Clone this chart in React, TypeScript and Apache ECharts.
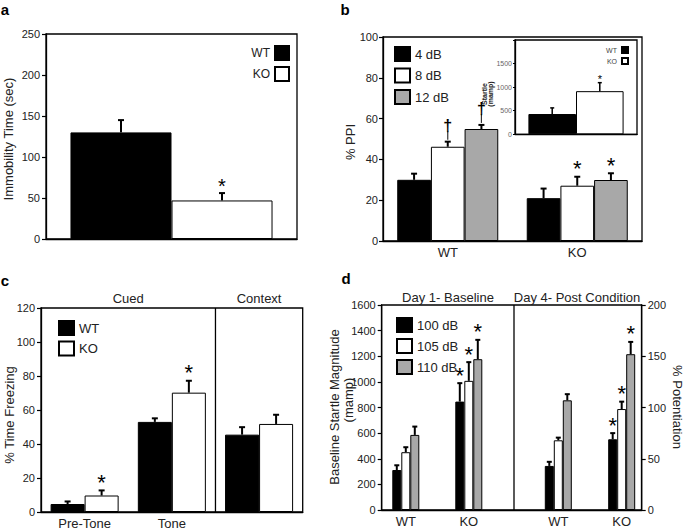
import React, { useEffect, useRef } from "react";
import * as echarts from "echarts";

const FONT = '"Liberation Sans", Arial, Helvetica, sans-serif';

// Panel a
const aCategories = [""];
const aWT = [130];
const aWTErr = [15];
const aKO = [47];
const aKOErr = [9];
const aKOMarks = ["*"];
const aTicks = { min: 0, max: 250, interval: 50 };

// Panel b
const bGroups = ["WT", "KO"];
const b4 = [30, 21];
const b4Err = [3, 4.7];
const b8 = [46.2, 27.1];
const b8Err = [2.5, 4.4];
const b8Marks = ["†", "*"];
const b12 = [54.9, 29.9];
const b12Err = [2, 3.3];
const b12Marks = ["†", "*"];
const bTicks = { min: 0, max: 100, interval: 20 };
// inset
const insetCategories = [""];
const insetWT = [430];
const insetWTErr = [130];
const insetKO = [915];
const insetKOErr = [180];
const insetKOMarks = ["*"];
const insetTicks = { min: 0, max: 2000, interval: 500 };

// Panel c
const cCategories = ["Pre-Tone", "Tone", "Context"];
const cWT = [4.7, 53, 45.5];
const cWTErr = [1.5, 2.1, 4.4];
const cKO = [9.7, 70.2, 51.8];
const cKOErr = [3, 7, 5.4];
const cKOMarks = ["*", "*", ""];
const cSections = ["Cued", "Context"];
const cTicks = { min: 0, max: 120, interval: 20 };

// Panel d
const dGroups = ["WT", "KO"];
const dSections = ["Day 1- Baseline", "Day 4- Post Condition"];
const d1_100 = [312, 846];
const d1_100Err = [37, 144];
const d1_105 = [451, 1008];
const d1_105Err = [39, 146];
const d1_110 = [586, 1177];
const d1_110Err = [65, 151];
const d4_100 = [43, 69];
const d4_100Err = [4, 6];
const d4_105 = [68, 98.5];
const d4_105Err = [2.6, 7.2];
const d4_110 = [107, 152];
const d4_110Err = [6, 12];
const dMarks = ["", "*"];
const dLeftTicks = { min: 0, max: 1600, interval: 200 };
const dRightTicks = { min: 0, max: 200, interval: 50 };

const BLACK = "#000";
const WHITE = "#fff";
const GRAY = "#a8a8a8";

type EOpts = { gap?: number; barW?: number; cap: number; lw: number; markSize: number };

function errorBars(
  key: string,
  xi: number,
  yi: number,
  means: number[],
  errs: number[],
  marks: string[] | null,
  idx: number,
  n: number,
  o: EOpts
) {
  return {
    type: "custom",
    name: "err-" + key,
    xAxisIndex: xi,
    yAxisIndex: yi,
    z: 10,
    silent: true,
    data: means.map((m, i) => [i, m, m + errs[i]]),
    renderItem: (params: any, api: any) => {
      const i = params.dataIndex;
      const base = api.coord([api.value(0), api.value(1)]);
      const top = api.coord([api.value(0), api.value(2)]);
      const band = api.size([1, 0])[0];
      const bw = o.barW != null ? o.barW : (band * (1 - (o.gap || 0))) / n;
      const x = base[0] + (idx - (n - 1) / 2) * bw;
      const ty = top[1];
      const ls = { stroke: BLACK, lineWidth: o.lw };
      const children: any[] = [
        { type: "line", shape: { x1: x, y1: base[1], x2: x, y2: ty }, style: ls },
        { type: "line", shape: { x1: x - o.cap, y1: ty, x2: x + o.cap, y2: ty }, style: ls },
      ];
      const mk = marks ? marks[i] : "";
      if (mk === "*") {
        children.push({
          type: "text",
          style: {
            text: "*",
            x,
            y: ty - o.markSize * 0.36,
            fontSize: o.markSize,
            fontFamily: FONT,
            fill: BLACK,
            align: "center",
            verticalAlign: "middle",
            textAlign: "center",
            textVerticalAlign: "middle",
          },
        });
      } else if (mk === "†") {
        children.push(
          { type: "line", shape: { x1: x, y1: ty - 2, x2: x, y2: ty - 11 }, style: { stroke: "#333", lineWidth: 1.2 } },
          {
            type: "text",
            style: {
              text: "†",
              x,
              y: ty - 8,
              fontSize: 16,
              fontWeight: "bold",
              fontFamily: FONT,
              fill: BLACK,
              align: "center",
              verticalAlign: "bottom",
              textAlign: "center",
              textVerticalAlign: "bottom",
            },
          }
        );
      }
      return { type: "group", children };
    },
  };
}

function bar(name: string, xi: number, yi: number, data: number[], color: string, extra: any = {}) {
  return {
    type: "bar",
    name,
    xAxisIndex: xi,
    yAxisIndex: yi,
    data,
    barGap: "0%",
    itemStyle: { color, borderColor: BLACK, borderWidth: 1 },
    ...extra,
  };
}

const axisLine = { show: true, lineStyle: { color: BLACK, width: 1.3 } };
const tick = { show: true, length: 4, lineStyle: { color: BLACK, width: 1.2 } };
const label = { fontSize: 11, color: "#222", fontFamily: FONT, margin: 6, formatter: (v: number) => String(v) };

function valueAxis(gridIndex: number, t: any, extra: any = {}) {
  return {
    type: "value",
    gridIndex,
    min: t.min,
    max: t.max,
    interval: t.interval,
    axisLine,
    axisTick: tick,
    axisLabel: label,
    splitLine: { show: false },
    ...extra,
  };
}

function catAxis(gridIndex: number, data: string[], extra: any = {}) {
  return {
    type: "category",
    gridIndex,
    data,
    axisLine,
    axisTick: { show: false },
    axisLabel: { fontSize: 13, color: "#222", fontFamily: FONT, margin: 5 },
    splitLine: { show: false },
    ...extra,
  };
}

// layout (pixels)
const GA = { left: 46, top: 34, width: 251, height: 205 };
const GB = { left: 383, top: 37, width: 259, height: 204 };
const GI = { left: 515, top: 40, width: 122, height: 94.3 };
const GC = { left: 41, top: 308, width: 261.7, height: 204.3 };
const GD = { left: 381.7, top: 305, width: 260, height: 205 };
const GD1 = { left: 374.3, top: 305, width: 126, height: 205 };
const GD2 = { left: 526.6, top: 305, width: 126.8, height: 205 };

const frame = { show: true, borderColor: BLACK, borderWidth: 1.3, backgroundColor: "transparent" };

function txt(text: string, x: number, y: number, size: number, extra: any = {}, rotation = 0) {
  return {
    type: "text",
    x,
    y,
    rotation,
    silent: true,
    style: {
      text,
      fontSize: size,
      fontFamily: FONT,
      fill: "#222",
      align: "center",
      verticalAlign: "middle",
      textAlign: "center",
      textVerticalAlign: "middle",
      ...extra,
    },
  };
}

export default function App() {
  const ref = useRef<HTMLDivElement>(null);
  useEffect(() => {
    if (!ref.current) return;
    const chart = echarts.init(ref.current, undefined, { renderer: "svg" });
    const eA = { gap: 0.195, cap: 3, lw: 2, markSize: 20 };
    const eB = { gap: 0.22, cap: 3, lw: 2, markSize: 22 };
    const eI = { gap: 0.22, cap: 2, lw: 1.5, markSize: 11 };
    const eC = { gap: 0.22, cap: 3, lw: 2, markSize: 22 };
    const eD = { barW: 9, cap: 2.5, lw: 2, markSize: 22 };
    const option: any = {
      animation: false,
      textStyle: { fontFamily: FONT },
      grid: [
        { ...GA, ...frame },
        { ...GB, ...frame },
        { ...GI, show: true, borderColor: BLACK, borderWidth: 1.3, backgroundColor: WHITE },
        { ...GC, ...frame },
        { ...GD, show: true, borderColor: BLACK, borderWidth: 1.3, backgroundColor: "transparent" },
        { ...GD1 },
        { ...GD2 },
      ],
      xAxis: [
        catAxis(0, aCategories, { axisLabel: { show: false } }),
        catAxis(1, bGroups),
        catAxis(2, insetCategories, { axisLabel: { show: false } }),
        catAxis(3, cCategories, {
          axisLabel: {
            fontSize: 13,
            color: "#222",
            fontFamily: FONT,
            margin: 5,
            formatter: (v: string) => (v === cCategories[2] ? "" : v),
          },
        }),
        catAxis(4, [""], { axisLabel: { show: false } }),
        catAxis(5, dGroups, { axisLine: { show: false } }),
        catAxis(6, dGroups, { axisLine: { show: false } }),
      ],
      yAxis: [
        valueAxis(0, aTicks),
        valueAxis(1, bTicks, { axisLabel: { ...label, margin: 5 } }),
        valueAxis(2, insetTicks, {
          axisTick: { show: true, length: 2, lineStyle: { color: BLACK } },
          axisLabel: {
            fontSize: 7,
            color: "#666",
            fontFamily: FONT,
            margin: 3,
            formatter: (v: number) => (v === insetTicks.max ? "" : String(v)),
          },
        }),
        valueAxis(3, cTicks),
        valueAxis(4, dLeftTicks),
        valueAxis(4, dRightTicks, { position: "right" }),
        valueAxis(5, dLeftTicks, { show: false }),
        valueAxis(6, dRightTicks, { show: false }),
      ],
      legend: [
        {
          data: ["WT", "KO"],
          orient: "vertical",
          right: 390,
          top: 40,
          align: "right",
          icon: "rect",
          itemWidth: 14,
          itemHeight: 14,
          itemGap: 5,
          selectedMode: false,
          textStyle: { fontSize: 12, color: "#222", fontFamily: FONT },
        },
        {
          data: ["4 dB", "8 dB", "12 dB"],
          orient: "vertical",
          left: 389,
          top: 41,
          icon: "rect",
          itemWidth: 15,
          itemHeight: 14,
          itemGap: 5.5,
          selectedMode: false,
          textStyle: { fontSize: 13, color: "#222", fontFamily: FONT },
        },
        {
          data: ["WT", "KO"],
          orient: "vertical",
          right: 51,
          top: 41,
          align: "right",
          icon: "rect",
          itemWidth: 6,
          itemHeight: 6,
          itemGap: 3,
          selectedMode: false,
          textStyle: { fontSize: 7, color: "#444", fontFamily: FONT },
        },
        {
          data: ["WT", "KO"],
          orient: "vertical",
          left: 53,
          top: 315,
          icon: "rect",
          itemWidth: 15,
          itemHeight: 14,
          itemGap: 4.5,
          selectedMode: false,
          textStyle: { fontSize: 13, color: "#222", fontFamily: FONT },
        },
        {
          data: ["100 dB", "105 dB", "110 dB"],
          orient: "vertical",
          left: 391,
          top: 312,
          icon: "rect",
          itemWidth: 15,
          itemHeight: 14,
          itemGap: 5,
          selectedMode: false,
          textStyle: { fontSize: 13, color: "#222", fontFamily: FONT },
        },
      ],
      series: [
        // a
        bar("WT", 0, 0, aWT, BLACK, { barCategoryGap: "19.5%" }),
        bar("KO", 0, 0, aKO, WHITE, { barCategoryGap: "19.5%" }),
        errorBars("aWT", 0, 0, aWT, aWTErr, null, 0, 2, eA),
        errorBars("aKO", 0, 0, aKO, aKOErr, aKOMarks, 1, 2, eA),
        // b
        bar("4 dB", 1, 1, b4, BLACK, { barCategoryGap: "22%" }),
        bar("8 dB", 1, 1, b8, WHITE, { barCategoryGap: "22%" }),
        bar("12 dB", 1, 1, b12, GRAY, { barCategoryGap: "22%" }),
        errorBars("b4", 1, 1, b4, b4Err, null, 0, 3, eB),
        errorBars("b8", 1, 1, b8, b8Err, b8Marks, 1, 3, eB),
        errorBars("b12", 1, 1, b12, b12Err, b12Marks, 2, 3, eB),
        // inset
        bar("WT", 2, 2, insetWT, BLACK, { barCategoryGap: "22%", z: 3 }),
        bar("KO", 2, 2, insetKO, WHITE, { barCategoryGap: "22%", z: 3 }),
        errorBars("iWT", 2, 2, insetWT, insetWTErr, null, 0, 2, eI),
        errorBars("iKO", 2, 2, insetKO, insetKOErr, insetKOMarks, 1, 2, eI),
        // c
        bar("WT", 3, 3, cWT, BLACK, { barCategoryGap: "22%" }),
        bar("KO", 3, 3, cKO, WHITE, { barCategoryGap: "22%" }),
        errorBars("cWT", 3, 3, cWT, cWTErr, null, 0, 2, eC),
        errorBars("cKO", 3, 3, cKO, cKOErr, cKOMarks, 1, 2, eC),
        // d day 1
        bar("100 dB", 5, 6, d1_100, BLACK, { barWidth: 9 }),
        bar("105 dB", 5, 6, d1_105, WHITE, { barWidth: 9 }),
        bar("110 dB", 5, 6, d1_110, GRAY, { barWidth: 9 }),
        errorBars("d1a", 5, 6, d1_100, d1_100Err, dMarks, 0, 3, eD),
        errorBars("d1b", 5, 6, d1_105, d1_105Err, dMarks, 1, 3, eD),
        errorBars("d1c", 5, 6, d1_110, d1_110Err, dMarks, 2, 3, eD),
        // d day 4
        bar("100 dB", 6, 7, d4_100, BLACK, { barWidth: 9 }),
        bar("105 dB", 6, 7, d4_105, WHITE, { barWidth: 9 }),
        bar("110 dB", 6, 7, d4_110, GRAY, { barWidth: 9 }),
        errorBars("d4a", 6, 7, d4_100, d4_100Err, dMarks, 0, 3, eD),
        errorBars("d4b", 6, 7, d4_105, d4_105Err, dMarks, 1, 3, eD),
        errorBars("d4c", 6, 7, d4_110, d4_110Err, dMarks, 2, 3, eD),
      ],
      graphic: [
        txt("a", 5, 9, 15, { fontWeight: "bold", fill: BLACK }),
        txt("b", 345, 9, 15, { fontWeight: "bold", fill: BLACK }),
        txt("c", 5, 280, 15, { fontWeight: "bold", fill: BLACK }),
        txt("d", 346, 278, 15, { fontWeight: "bold", fill: BLACK }),
        txt("Immobility Time (sec)", 8, 139, 13, {}, Math.PI / 2),
        txt("% PPI", 350, 142, 13, {}, Math.PI / 2),
        txt("% Time Freezing", 9, 415, 13, {}, Math.PI / 2),
        txt("Baseline Startle Magnitude", 334, 407, 13, {}, Math.PI / 2),
        txt("(mamp)", 348, 400, 13, {}, Math.PI / 2),
        txt("% Potentiation", 677, 407, 13, {}, -Math.PI / 2),
        txt("Startle", 484, 94, 7, { fontWeight: "bold" }, Math.PI / 2),
        txt("(mamp)", 490, 94, 7, { fontWeight: "bold" }, Math.PI / 2),
        txt(cSections[0], GC.left + GC.width / 3, 298, 13),
        txt(cSections[1], GC.left + (GC.width * 5) / 6, 298, 13),
        txt(dSections[0], 448, 297, 13),
        txt(dSections[1], 577, 297, 13),
        {
          type: "line",
          silent: true,
          shape: {
            x1: GC.left + (GC.width * 2) / 3,
            y1: GC.top,
            x2: GC.left + (GC.width * 2) / 3,
            y2: GC.top + GC.height,
          },
          style: { stroke: BLACK, lineWidth: 1.3 },
        },
        {
          type: "line",
          silent: true,
          shape: { x1: 514, y1: GD.top, x2: 514, y2: GD.top + GD.height },
          style: { stroke: BLACK, lineWidth: 1.3 },
        },
      ],
    };
    chart.setOption(option);
    return () => chart.dispose();
  }, []);
  return (
    <div
      ref={ref}
      style={{ position: "absolute", left: 0, top: 0, width: 685, height: 530, background: "#fff" }}
    />
  );
}
